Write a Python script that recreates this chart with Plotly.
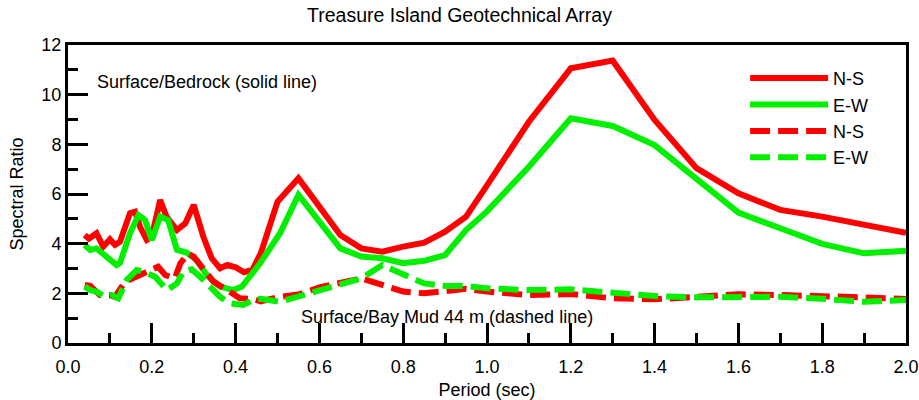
import plotly.graph_objects as go

# Surface/Bedrock (solid) N-S
p_ns_rock = [0.04,0.05,0.068,0.084,0.10,0.112,0.124,0.148,0.16,0.172,0.188,0.20,0.22,0.235,0.26,0.28,0.30,0.323,0.343,0.363,0.38,0.40,0.42,0.44,0.46,0.50,0.55,0.60,0.65,0.70,0.75,0.80,0.85,0.90,0.95,1.00,1.10,1.20,1.30,1.40,1.50,1.60,1.70,1.80,1.90,2.00]
v_ns_rock = [4.35,4.2,4.42,3.88,4.18,3.95,4.08,5.23,5.29,4.68,4.15,4.28,5.76,5.09,4.55,4.82,5.56,4.28,3.41,3.01,3.14,3.05,2.85,2.94,3.61,5.69,6.63,5.49,4.35,3.81,3.68,3.88,4.04,4.48,5.09,6.35,8.91,11.06,11.37,8.98,7.04,6.03,5.36,5.09,4.75,4.44]

# Surface/Bedrock (solid) E-W
p_ew_rock = [0.04,0.053,0.068,0.088,0.116,0.124,0.148,0.168,0.184,0.20,0.22,0.239,0.26,0.283,0.307,0.331,0.363,0.395,0.415,0.458,0.506,0.55,0.60,0.65,0.70,0.75,0.80,0.85,0.90,0.95,1.00,1.10,1.20,1.30,1.40,1.50,1.60,1.70,1.80,1.90,2.00]
v_ew_rock = [3.95,3.75,3.81,3.54,3.14,3.22,4.42,5.15,4.95,4.15,5.09,4.95,3.75,3.64,3.34,2.74,2.27,2.13,2.27,3.2,4.42,5.96,4.88,3.81,3.48,3.41,3.21,3.31,3.54,4.55,5.3,7.1,9.05,8.74,7.97,6.6,5.25,4.62,3.99,3.61,3.72]

# Surface/Bay Mud 44 m (dashed) N-S
p_ns_mud = [0.04,0.053,0.076,0.10,0.112,0.136,0.172,0.19,0.215,0.232,0.255,0.268,0.286,0.30,0.323,0.347,0.38,0.41,0.44,0.46,0.50,0.55,0.60,0.65,0.70,0.75,0.80,0.85,0.90,0.95,1.00,1.10,1.20,1.30,1.40,1.50,1.60,1.70,1.80,1.90,2.00]
v_ns_mud = [2.34,2.3,1.93,1.93,1.86,2.47,2.74,2.87,3.07,2.74,2.6,3.2,3.6,3.48,3.01,2.47,2.13,1.8,1.78,1.68,1.84,1.95,2.24,2.42,2.6,2.34,2.07,2.0,2.07,2.18,2.07,1.93,1.97,1.8,1.76,1.84,1.96,1.93,1.9,1.84,1.77]

# Surface/Bay Mud 44 m (dashed) E-W
p_ew_mud = [0.04,0.053,0.068,0.088,0.104,0.12,0.14,0.164,0.18,0.208,0.236,0.26,0.275,0.295,0.315,0.339,0.363,0.387,0.418,0.442,0.46,0.506,0.554,0.60,0.65,0.70,0.75,0.80,0.85,0.90,0.95,1.00,1.10,1.20,1.30,1.40,1.50,1.60,1.70,1.80,1.90,2.00]
v_ew_mud = [2.27,2.13,2.07,1.86,1.93,1.8,2.54,2.94,2.87,2.67,2.13,2.4,2.87,2.97,2.67,2.27,1.86,1.6,1.53,1.73,1.78,1.66,1.89,2.07,2.34,2.6,3.14,2.74,2.4,2.3,2.3,2.2,2.13,2.16,2.04,1.89,1.84,1.84,1.86,1.78,1.66,1.73]

RED = "#ff0000"
GREEN = "#00f000"
FONT = "Liberation Sans, Arial, sans-serif"
FS = 18

fig = go.Figure()
series = [
    ("N-S", p_ns_rock, v_ns_rock, RED, "solid"),
    ("E-W", p_ew_rock, v_ew_rock, GREEN, "solid"),
    ("N-S", p_ns_mud, v_ns_mud, RED, "20px,8px"),
    ("E-W", p_ew_mud, v_ew_mud, GREEN, "20px,8px"),
]
for i, (name, p, v, c, d) in enumerate(series):
    fig.add_trace(go.Scatter(x=p, y=v, mode="lines", name=name,
                             legendgroup=f"g{i}",
                             line=dict(color=c, width=6, dash=d)))

axis_common = dict(showline=True, linecolor="black", linewidth=3, mirror=True,
                   ticks="inside", ticklen=20, tickwidth=3, tickcolor="black",
                   showgrid=False, zeroline=False, automargin=False,
                   tickfont=dict(family=FONT, size=FS, color="black"))

fig.update_xaxes(range=[0, 2], dtick=0.2, tickformat=".1f", ticklabelstandoff=5,
                 minor=dict(ticks="inside", dtick=0.1, ticklen=10, tickwidth=3, tickcolor="black"),
                 title=dict(text="Period (sec)", font=dict(family=FONT, size=FS, color="black"), standoff=12),
                 **axis_common)
fig.update_yaxes(range=[0, 12], dtick=2,
                 minor=dict(ticks="inside", dtick=1, ticklen=10, tickwidth=3, tickcolor="black"),
                 title=dict(text="Spectral Ratio", font=dict(family=FONT, size=FS, color="black"), standoff=14),
                 **axis_common)

fig.add_annotation(x=0.064, y=10.5, xref="x", yref="y", text="Surface/Bedrock (solid line)",
                   showarrow=False, xanchor="left", yanchor="middle",
                   font=dict(family=FONT, size=FS, color="black"))
fig.add_annotation(x=0.552, y=1.05, xref="x", yref="y", text="Surface/Bay Mud 44 m (dashed line)",
                   showarrow=False, xanchor="left", yanchor="middle",
                   font=dict(family=FONT, size=FS, color="black"))

fig.update_layout(
    width=919, height=400,
    margin=dict(l=68, r=13, t=45, b=57),
    paper_bgcolor="white", plot_bgcolor="white",
    title=dict(text="Treasure Island Geotechnical Array", x=0.5, xanchor="center",
               y=0.962, yanchor="middle", font=dict(family=FONT, size=19.5, color="black")),
    legend=dict(x=0.808, y=0.95, xanchor="left", yanchor="top",
                bgcolor="rgba(0,0,0,0)", font=dict(family=FONT, size=FS, color="black"),
                tracegroupgap=0, itemwidth=78),
    showlegend=True,
)

fig.write_html("out.html")
